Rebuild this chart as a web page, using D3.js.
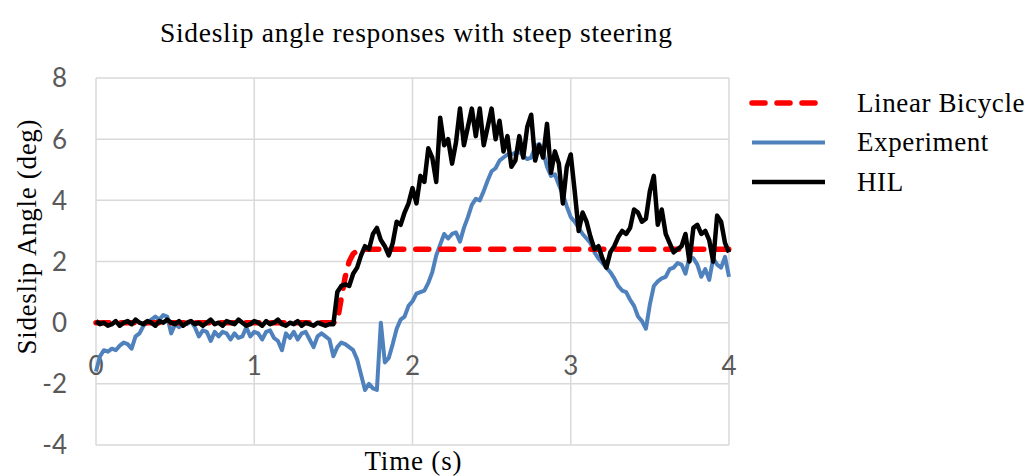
<!DOCTYPE html>
<html>
<head>
<meta charset="utf-8">
<title>Sideslip angle responses</title>
<script src="https://d3js.org/d3.v7.min.js"></script>
<style>
  body { margin: 0; background: white; }
  .tick-label { font-family: Lato, "Open Sans", sans-serif; font-size: 26px; fill: #595959; }
  .serif { font-family: "Liberation Serif", "DejaVu Serif", serif; fill: black; }
  .grid { stroke: #d9d9d9; stroke-width: 1.5px; }
  .line { fill: none; stroke-linejoin: round; }
</style>
</head>
<body>
<svg id="chart" width="1031" height="476"></svg>
<script>
// time axis, one sample every 0.025 s from 0 to 4 s
const dt = 0.025
const time = d3.range(0, 161).map(k => +(k * dt).toFixed(3))

const xTicks = [0, 1, 2, 3, 4]
const yTicks = [-4, -2, 0, 2, 4, 6, 8]
const seriesNames = ['Linear Bicycle', 'Experiment', 'HIL']

// Linear Bicycle model (deg)
const linear = [
  0,0,0,0,0,0,0,0,0,0,
  0,0,0,0,0,0,0,0,0,0,
  0,0,0,0,0,0,0,0,0,0,
  0,0,0,0,0,0,0,0,0,0,
  0,0,0,0,0,0,0,0,0,0,
  0,0,0,0,0,0,0,0,0,0,
  0,0.05,0.8,1.5,2.0,2.25,2.35,2.4,2.4,2.4,
  2.4,2.4,2.4,2.4,2.4,2.4,2.4,2.4,2.4,2.4,
  2.4,2.4,2.4,2.4,2.4,2.4,2.4,2.4,2.4,2.4,
  2.4,2.4,2.4,2.4,2.4,2.4,2.4,2.4,2.4,2.4,
  2.4,2.4,2.4,2.4,2.4,2.4,2.4,2.4,2.4,2.4,
  2.4,2.4,2.4,2.4,2.4,2.4,2.4,2.4,2.4,2.4,
  2.4,2.4,2.4,2.4,2.4,2.4,2.4,2.4,2.4,2.4,
  2.4,2.4,2.4,2.4,2.4,2.4,2.4,2.4,2.4,2.4,
  2.4,2.4,2.4,2.4,2.4,2.4,2.4,2.4,2.4,2.4,
  2.4,2.4,2.4,2.4,2.4,2.4,2.4,2.4,2.4,2.4,
  2.4
]

// Experiment (deg)
const experiment = [
  -1.6,-1.1,-0.9,-0.95,-0.85,-0.9,-0.75,-0.65,-0.7,-0.85,
  -0.45,-0.35,-0.1,0.0,0.1,0.2,0.1,0.25,0.2,-0.35,
  -0.05,-0.15,0.0,-0.05,0.05,-0.15,-0.45,-0.25,-0.3,-0.6,
  -0.3,-0.45,-0.3,-0.35,-0.55,-0.35,-0.5,-0.45,-0.15,-0.45,
  -0.3,-0.35,-0.55,-0.3,-0.25,-0.5,-0.6,-0.9,-0.35,-0.5,
  -0.3,-0.55,-0.35,-0.3,-0.55,-0.8,-0.45,-0.35,-0.45,-0.55,
  -1.1,-0.8,-0.65,-0.7,-0.8,-0.9,-1.2,-1.7,-2.2,-2.0,
  -2.15,-2.2,0.0,-1.3,-1.15,-0.7,-0.2,0.1,0.2,0.55,
  0.7,0.95,1.0,1.05,1.3,1.65,2.2,2.55,2.9,2.75,
  2.9,2.95,2.65,3.1,3.45,3.85,4.05,4.0,4.3,4.65,
  4.95,5.05,5.3,5.4,5.5,5.5,5.55,5.6,5.45,5.35,
  5.4,5.75,5.85,5.6,5.1,4.8,4.85,4.5,4.2,3.8,
  3.45,3.3,3.1,2.9,2.75,2.6,2.3,2.1,1.95,1.8,
  1.65,1.45,1.2,1.05,1.0,0.75,0.55,0.2,0.05,-0.2,
  0.6,1.2,1.35,1.45,1.5,1.75,1.8,1.95,1.9,1.6,
  2.15,2.1,1.9,1.5,1.75,1.4,2.1,1.9,1.8,2.15,
  1.5
]

// Hardware-in-the-loop (deg)
const hil = [
  0.05,-0.05,0.0,-0.1,-0.05,0.05,-0.1,0.0,0.05,-0.05,
  0.1,0.0,-0.05,0.05,0.0,-0.1,0.05,0.0,0.1,0.0,
  -0.05,0.05,-0.1,0.0,0.05,-0.05,0.0,-0.1,0.0,0.1,
  -0.05,0.0,-0.1,0.05,0.0,-0.05,0.1,0.0,-0.1,-0.05,
  0.05,0.0,-0.1,0.05,-0.05,0.0,0.1,-0.05,-0.1,0.0,
  -0.05,0.05,-0.1,0.0,-0.05,-0.1,0.0,-0.05,-0.1,-0.05,
  -0.05,1.0,1.2,1.25,1.2,1.6,1.8,2.2,2.5,2.4,
  2.9,3.1,2.7,2.5,2.2,2.6,3.3,3.2,3.6,3.9,
  4.4,3.9,4.8,4.6,5.7,5.4,4.6,6.7,5.8,6.0,
  5.2,5.9,7.0,5.8,6.4,7.0,6.1,7.0,5.8,6.4,
  7.0,6.0,6.6,5.6,6.1,5.1,5.3,6.1,5.4,6.4,
  6.8,5.3,5.8,5.4,6.5,4.9,5.6,5.2,3.9,5.1,
  5.5,4.3,3.0,3.6,3.3,2.8,2.4,2.5,2.1,1.8,
  2.3,2.5,2.8,3.0,2.9,3.1,3.7,3.6,3.3,3.4,
  4.3,4.8,3.2,3.7,2.9,2.6,2.3,2.4,2.5,2.9,
  2.0,3.1,3.2,2.9,3.0,2.7,2.0,3.5,3.3,2.6,
  2.3
]

const svg = d3.select('#chart')

const x = d3.scaleLinear().domain([0, 4]).range([96, 729])
const y = d3.scaleLinear().domain([-4, 8]).range([445, 78])

// gridlines
svg.append('g').selectAll('line').data(yTicks).enter().append('line')
  .attr('class', 'grid')
  .attr('x1', x(0)).attr('x2', x(4))
  .attr('y1', d => y(d)).attr('y2', d => y(d))

svg.append('g').selectAll('line').data(xTicks).enter().append('line')
  .attr('class', 'grid')
  .attr('x1', d => x(d)).attr('x2', d => x(d))
  .attr('y1', y(8)).attr('y2', y(-4))

// y tick labels
svg.append('g').selectAll('text').data(yTicks).enter().append('text')
  .attr('class', 'tick-label')
  .attr('x', 67)
  .attr('y', d => y(d))
  .attr('dy', '0.36em')
  .attr('text-anchor', 'end')
  .text(d => d)

// x tick labels, sitting under the zero line
svg.append('g').selectAll('text').data(xTicks).enter().append('text')
  .attr('class', 'tick-label')
  .attr('x', d => x(d))
  .attr('y', y(-1.42))
  .attr('dy', '0.36em')
  .attr('text-anchor', 'middle')
  .text(d => d)

// series
const colors = ['#ff0000', '#4f81bd', '#000000']
const widths = [5.5, 4, 4.5]
const allSeries = [linear, experiment, hil]

const line = d3.line()
  .x((d, i) => x(time[i]))
  .y(d => y(d))

// draw order: experiment, linear, hil on top
;[1, 0, 2].forEach(si => {
  const p = svg.append('path')
    .datum(allSeries[si])
    .attr('class', 'line')
    .attr('d', line)
    .attr('stroke', colors[si])
    .attr('stroke-width', widths[si])
  if (si === 0) {
    p.attr('stroke-dasharray', '13,12').attr('stroke-linecap', 'round')
  }
})

// titles
svg.append('text')
  .attr('class', 'serif')
  .attr('x', 416).attr('y', 42)
  .attr('text-anchor', 'middle')
  .attr('textLength', 512)
  .attr('lengthAdjust', 'spacing')
  .style('font-size', '27.5px')
  .text('Sideslip angle responses with steep steering')

svg.append('text')
  .attr('class', 'serif')
  .attr('x', 413).attr('y', 470)
  .attr('text-anchor', 'middle')
  .attr('textLength', 97)
  .attr('lengthAdjust', 'spacing')
  .style('font-size', '27px')
  .text('Time (s)')

svg.append('text')
  .attr('class', 'serif')
  .attr('transform', 'translate(36,237) rotate(-90)')
  .attr('text-anchor', 'middle')
  .attr('textLength', 235)
  .attr('lengthAdjust', 'spacing')
  .style('font-size', '27px')
  .text('Sideslip Angle (deg)')

// legend
const legend = svg.append('g')
seriesNames.forEach((name, i) => {
  const ly = 103 + i * 39.5
  const l = legend.append('line')
    .attr('x1', 752).attr('x2', 825)
    .attr('y1', ly).attr('y2', ly)
    .attr('stroke', colors[i])
    .attr('stroke-width', widths[i])
  if (i === 0) l.attr('stroke-dasharray', '13,12').attr('stroke-linecap', 'round')
  legend.append('text')
    .attr('class', 'serif')
    .attr('x', 857).attr('y', ly)
    .attr('dy', '0.33em')
    .style('font-size', '27px')
    .style('letter-spacing', '0.6px')
    .text(name)
})
</script>
</body>
</html>
